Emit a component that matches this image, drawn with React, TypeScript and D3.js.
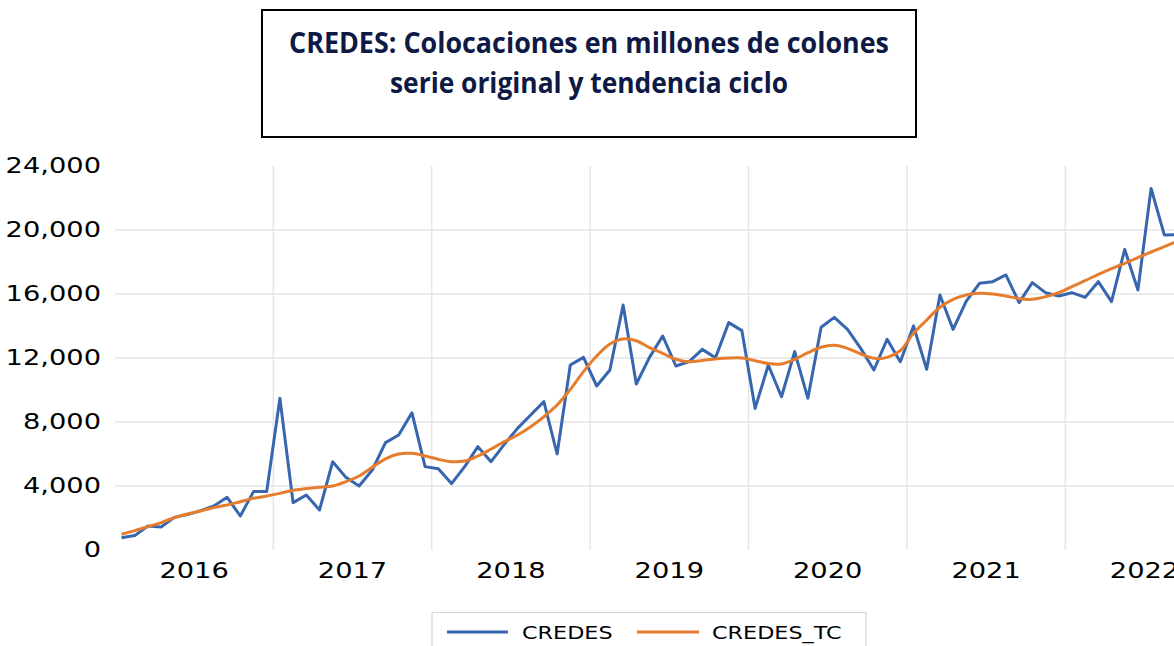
import React from 'react';
import * as d3 from 'd3';

const years = ['2016', '2017', '2018', '2019', '2020', '2021', '2022'];
const yTicks = [0, 4000, 8000, 12000, 16000, 20000, 24000];
const seriesNames = ['CREDES', 'CREDES_TC'];
const titleLines = ['CREDES: Colocaciones en millones de colones', 'serie original y tendencia ciclo'];

// Monthly values, Jan 2016 onward
const credes = [
  770, 900, 1500, 1440, 2040, 2210, 2460, 2750, 3290, 2125, 3650, 3650,
  9480, 2960, 3440, 2500, 5520, 4540, 4000, 5000, 6710, 7190, 8580, 5210,
  5080, 4150, 5210, 6460, 5520, 6600, 7600, 8440, 9270, 6000, 11560, 12040,
  10250, 11250, 15310, 10375, 12040, 13375, 11500, 11770, 12540, 12020, 14210, 13710,
  8850, 11560, 9580, 12400, 9480, 13920, 14540, 13790, 12600, 11250, 13170, 11770,
  14000, 11290, 15940, 13790, 15560, 16670, 16770, 17190, 15460, 16710, 16083, 15875,
  16083, 15790, 16770, 15520, 18790, 16250, 22600, 19690, 19700,
];

const credesTC = [
  980, 1210, 1460, 1710, 2020, 2250, 2440, 2650, 2810, 3020, 3230, 3375,
  3540, 3730, 3850, 3920, 4000, 4270, 4625, 5170, 5700, 6000, 6040, 5875,
  5670, 5520, 5560, 5875, 6310, 6770, 7190, 7710, 8330, 9060, 10040, 11150,
  12125, 12875, 13190, 13080, 12650, 12290, 11920, 11770, 11850, 11940, 12000, 12000,
  11830, 11650, 11625, 11920, 12330, 12670, 12790, 12600, 12250, 11980, 12040, 12460,
  13540, 14375, 15170, 15670, 15940, 16040, 16000, 15875, 15710, 15670, 15830, 16083,
  16460, 16830, 17230, 17580, 17920, 18270, 18625, 18960, 19300,
];

const BLUE = '#3766AF';
const ORANGE = '#E67D2E';
const FONT = '"DejaVu Sans", Verdana, sans-serif';
const SX = 1.24;

export default function App() {
  const W = 1174;
  const H = 646;
  const left = 114.9;
  const yearW = 158.4;
  const x = d3.scaleLinear().domain([0, years.length * 12]).range([left, left + yearW * years.length]);
  const y = d3.scaleLinear().domain([0, 24000]).range([550, 166]);
  const fmt = d3.format(',');

  const lineBlue = d3
    .line<number>()
    .x((_, i) => x(i + 0.5))
    .y((d) => y(d));
  const lineOrange = d3
    .line<number>()
    .x((_, i) => x(i + 0.5))
    .y((d) => y(d))
    .curve(d3.curveCatmullRom.alpha(0.5));

  return (
    <svg
      width={W}
      height={H}
      style={{ position: 'absolute', left: 0, top: 0, background: '#fff' }}
    >
      <rect x={0} y={0} width={W} height={H} fill="#fff" />
      {/* Title box */}
      <rect x={262} y={10} width={654} height={127} fill="#fff" stroke="#000" strokeWidth={2} />
      {titleLines.map((t, i) => (
        <text
          key={t}
          x={589}
          y={i === 0 ? 53 : 93}
          textAnchor="middle"
          fontFamily='"Open Sans", sans-serif'
          fontWeight={700}
          fontSize={28}
          fill="#0E1A45"
          textLength={i === 0 ? 600 : 398}
          lengthAdjust="spacingAndGlyphs"
        >
          {t}
        </text>
      ))}

      {/* Gridlines */}
      {yTicks
        .filter((v) => v > 0 && v < 24000)
        .map((v) => (
          <line key={'h' + v} x1={115} x2={W} y1={y(v)} y2={y(v)} stroke="#e6e6e6" strokeWidth={1.5} />
        ))}
      {years.slice(1).map((yr, k) => (
        <line
          key={'v' + yr}
          x1={x((k + 1) * 12)}
          x2={x((k + 1) * 12)}
          y1={166}
          y2={550}
          stroke="#e6e6e6"
          strokeWidth={1.5}
        />
      ))}

      {/* Y labels */}
      {yTicks.map((v) => (
        <text
          key={'yl' + v}
          transform={`translate(101,${y(v) + 7}) scale(${SX},1)`}
          textAnchor="end"
          fontFamily={FONT}
          fontSize={22}
          fill="#000"
        >
          {fmt(v)}
        </text>
      ))}

      {/* X labels */}
      {years.map((yr, k) => (
        <text
          key={'xl' + yr}
          transform={`translate(${x(k * 12 + 6)},577.5) scale(${SX},1)`}
          textAnchor="middle"
          fontFamily={FONT}
          fontSize={22}
          fill="#000"
        >
          {yr}
        </text>
      ))}

      {/* Series */}
      <path d={lineBlue(credes) || ''} fill="none" stroke={BLUE} strokeWidth={3} strokeLinejoin="round" />
      <path d={lineOrange(credesTC) || ''} fill="none" stroke={ORANGE} strokeWidth={3} strokeLinejoin="round" />

      {/* Legend */}
      <rect x={432} y={612.5} width={434} height={45} fill="#fff" stroke="#d9d9d9" strokeWidth={1.2} />
      <line x1={447} x2={508} y1={632} y2={632} stroke={BLUE} strokeWidth={3} />
      <text transform={`translate(522,638.5) scale(${SX},1)`} fontFamily={FONT} fontSize={18} fill="#000">
        {seriesNames[0]}
      </text>
      <line x1={637} x2={699} y1={632} y2={632} stroke={ORANGE} strokeWidth={3} />
      <text transform={`translate(712,638.5) scale(${SX},1)`} fontFamily={FONT} fontSize={18} fill="#000">
        {seriesNames[1]}
      </text>
    </svg>
  );
}
